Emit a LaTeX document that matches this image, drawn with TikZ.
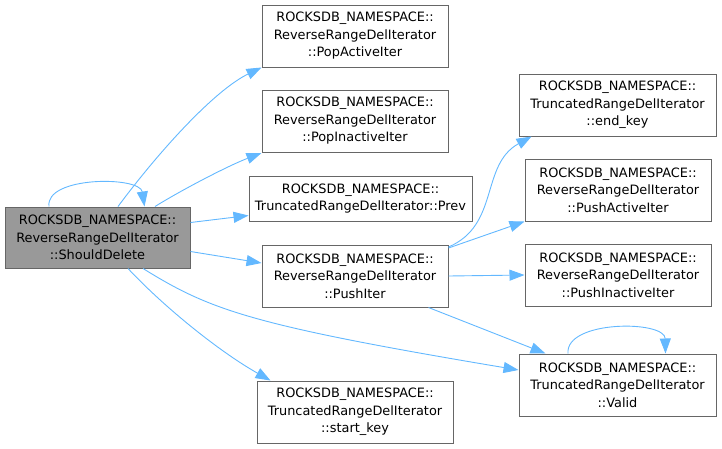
\documentclass[tikz,border=0pt]{standalone}
\usepackage{fontspec}
\setmainfont{DejaVu Sans}
\usetikzlibrary{arrows.meta}
\definecolor{edgeblue}{HTML}{63B8FF}
\definecolor{boxline}{HTML}{666666}
\definecolor{mainfill}{HTML}{999999}
\begin{document}
\begin{tikzpicture}[x=1pt,y=-1pt,
  fn/.style={draw=boxline,line width=1pt,fill=white,inner sep=0pt,align=center,
    font=\fontsize{12.9}{17.5}\selectfont,text=black},
  conn/.style={draw=edgeblue,line width=0.9pt,-{Triangle[length=15pt,width=11pt]}}]
\useasboundingbox (0,0) rectangle (722,448);
\node[fn,fill=mainfill,minimum width=185pt,minimum height=61pt] (sd) at (97.5,237.5)
  {ROCKSDB\_NAMESPACE::\\ReverseRangeDelIterator\\::ShouldDelete};
\node[fn,minimum width=186pt,minimum height=62pt] (pa) at (355,36)
  {ROCKSDB\_NAMESPACE::\\ReverseRangeDelIterator\\::PopActiveIter};
\node[fn,minimum width=186pt,minimum height=62pt] (pi) at (355,121)
  {ROCKSDB\_NAMESPACE::\\ReverseRangeDelIterator\\::PopInactiveIter};
\node[fn,minimum width=223pt,minimum height=45pt] (pr) at (360.5,198.5)
  {ROCKSDB\_NAMESPACE::\\TruncatedRangeDelIterator::Prev};
\node[fn,minimum width=186pt,minimum height=62pt] (ph) at (355,276)
  {ROCKSDB\_NAMESPACE::\\ReverseRangeDelIterator\\::PushIter};
\node[fn,minimum width=196pt,minimum height=62pt] (sk) at (355,412)
  {ROCKSDB\_NAMESPACE::\\TruncatedRangeDelIterator\\::start\_key};
\node[fn,minimum width=197pt,minimum height=62pt] (ek) at (617.5,105)
  {ROCKSDB\_NAMESPACE::\\TruncatedRangeDelIterator\\::end\_key};
\node[fn,minimum width=186pt,minimum height=62pt] (pai) at (618,190)
  {ROCKSDB\_NAMESPACE::\\ReverseRangeDelIterator\\::PushActiveIter};
\node[fn,minimum width=186pt,minimum height=62pt] (pii) at (618,275)
  {ROCKSDB\_NAMESPACE::\\ReverseRangeDelIterator\\::PushInactiveIter};
\node[fn,minimum width=197pt,minimum height=62pt] (va) at (617.5,385)
  {ROCKSDB\_NAMESPACE::\\TruncatedRangeDelIterator\\::Valid};
% edges
\draw[conn] ([xshift=-48.5pt]sd.north) .. controls (45,176) and (140,176) .. ([xshift=47pt]sd.north);
\draw[conn] ([xshift=20.5pt]sd.north) .. controls (160,150) and (215,90) .. (pa.south west);
\draw[conn] ([xshift=57.5pt]sd.north) .. controls (185,188) and (230,165) .. ([yshift=-0.5pt]pi.south west);
\draw[conn] ([yshift=15pt]sd.east) -- ([yshift=-17pt]pr.west);
\draw[conn] ([yshift=-14pt]sd.east) -- ([yshift=13pt]ph.west);
\draw[conn] ([xshift=45.5pt]sd.south) .. controls (210,310) and (250,325) .. ([yshift=15pt]va.west);
\draw[conn] ([xshift=30.5pt]sd.south) .. controls (165,308) and (220,352) .. ([xshift=14pt]sk.north west);
\draw[conn] ([yshift=29pt]ph.east) .. controls (500,225) and (480,165) .. ([xshift=13pt]ek.south west);
\draw[conn] ([yshift=28pt]ph.east) -- (pai.south west);
\draw[conn] (ph.east) -- (pii.west);
\draw[conn] ([xshift=-20pt]ph.south east) -- ([xshift=27pt]va.north west);
\draw[conn] ([xshift=-49.5pt]va.north) .. controls (565,320) and (665,320) .. ([xshift=48pt]va.north);
\end{tikzpicture}
\end{document}
